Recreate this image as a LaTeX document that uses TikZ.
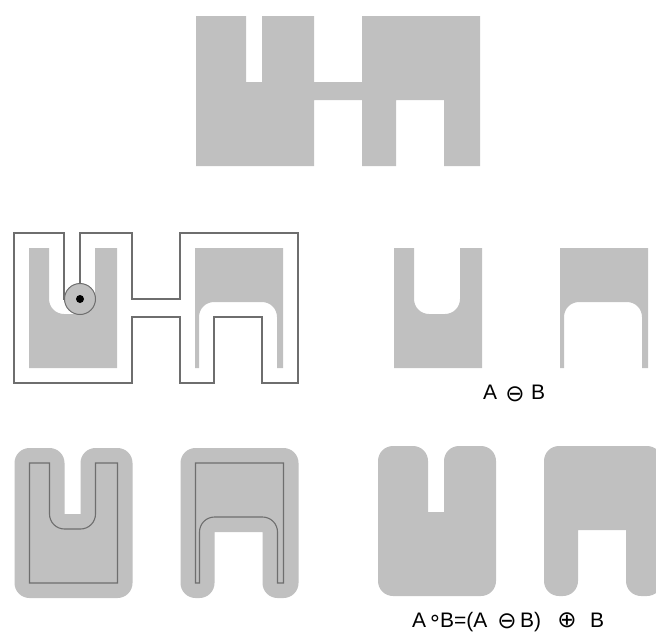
\documentclass[tikz,border=0pt]{standalone}
\usepackage{fontspec}
\setmainfont{Liberation Sans}
\newfontfamily\symfont{DejaVu Sans}
\definecolor{shapegray}{HTML}{C0C0C0}
\definecolor{linegray}{HTML}{6E6E6E}
\tikzset{
  shapefill/.style={fill=shapegray, draw=none},
  outline/.style={draw=linegray, line width=1.1pt, fill=none},
  lbl/.style={inner sep=0pt, anchor=base west, font=\fontsize{21}{24}\selectfont},
  symb/.style={inner sep=0pt, font=\symfont\fontsize{23}{25}\selectfont},
  pics/shapeA/.style={code={
    \path[pic actions] (0,0) -- (50,0) -- (50,66) -- (66,66) -- (66,0) -- (118,0) -- (118,66)
      -- (166,66) -- (166,0) -- (284,0) -- (284,150) -- (248,150) -- (248,84) -- (200,84)
      -- (200,150) -- (166,150) -- (166,84) -- (118,84) -- (118,150) -- (0,150) -- cycle;
  }},
  pics/erosion/.style={code={
    \path[pic actions] (15,15) -- (35,15) -- (35,66) arc[start angle=180, end angle=90, radius=15]
      -- (66,81) arc[start angle=90, end angle=0, radius=15] -- (81,15) -- (103,15) -- (103,135)
      -- (15,135) -- cycle
      (181,15) -- (269,15) -- (269,135) -- (263,135) -- (263,84)
      arc[start angle=0, end angle=-90, radius=15] -- (200,69)
      arc[start angle=270, end angle=180, radius=15] -- (185,135) -- (181,135) -- cycle;
  }},
  pics/opening/.style={code={
    \path[pic actions] (0,15) arc[start angle=180, end angle=270, radius=15] -- (35,0)
      arc[start angle=270, end angle=360, radius=15] -- (50,66) -- (66,66) -- (66,15)
      arc[start angle=180, end angle=270, radius=15] -- (103,0)
      arc[start angle=270, end angle=360, radius=15] -- (118,135)
      arc[start angle=0, end angle=90, radius=15] -- (15,150)
      arc[start angle=90, end angle=180, radius=15] -- cycle
      (166,15) arc[start angle=180, end angle=270, radius=15] -- (269,0)
      arc[start angle=270, end angle=360, radius=15] -- (284,135)
      arc[start angle=0, end angle=90, radius=15] -- (263,150)
      arc[start angle=90, end angle=180, radius=15] -- (248,84) -- (200,84) -- (200,135)
      arc[start angle=0, end angle=90, radius=15] -- (181,150)
      arc[start angle=90, end angle=180, radius=15] -- cycle;
  }}
}
\begin{document}
\begin{tikzpicture}[x=1pt, y=-1pt]
\useasboundingbox (0,0) rectangle (656,632);
\fill[white] (0,0) rectangle (656,632);
% cut-off caption
\node[anchor=base west, inner sep=0pt, font=\fontsize{30}{36}\selectfont\bfseries] (caption) at (-2,-9)
  {\llap{Fi}gura 5: Exemplo de abertura com elemento estruturante circular};
% top: original shape A
\pic[shapefill] at (196,16) {shapeA};
% middle left: A outline, erosion, structuring element
\pic[shapefill] at (14,233) {erosion};
\pic[outline] at (14,233) {shapeA};
\node[circle, draw=linegray, fill=shapegray, line width=1pt, minimum size=31pt, inner sep=0pt] (se) at (80,299) {};
\node[circle, fill=black, minimum size=8pt, inner sep=0pt] (sedot) at (se.center) {};
% middle right: erosion result
\pic[shapefill] at (379,233) {erosion};
\node[lbl] (elA) at (483,399) {A};
\node[symb] (elominus) at (515,394.5) {⊖};
\node[lbl] (elB) at (531,399) {B};
% bottom left: opening with erosion outline
\pic[shapefill] at (14.5,448) {opening};
\pic[outline] at (14.5,448) {erosion};
% bottom right: opening result
\pic[shapefill] at (378,446) {opening};
\node[lbl] (olA) at (412,627) {A};
\node[symb, font=\symfont\fontsize{22}{24}\selectfont] (olring) at (435,620) {∘};
\node[lbl] (olB) at (440,627) {B=(A};
\node[symb] (olominus) at (507,621.5) {⊖};
\node[lbl] (olB2) at (520,627) {B)};
\node[symb] (oloplus) at (567,620.5) {⊕};
\node[lbl] (olB3) at (590,627) {B};
\end{tikzpicture}
\end{document}
